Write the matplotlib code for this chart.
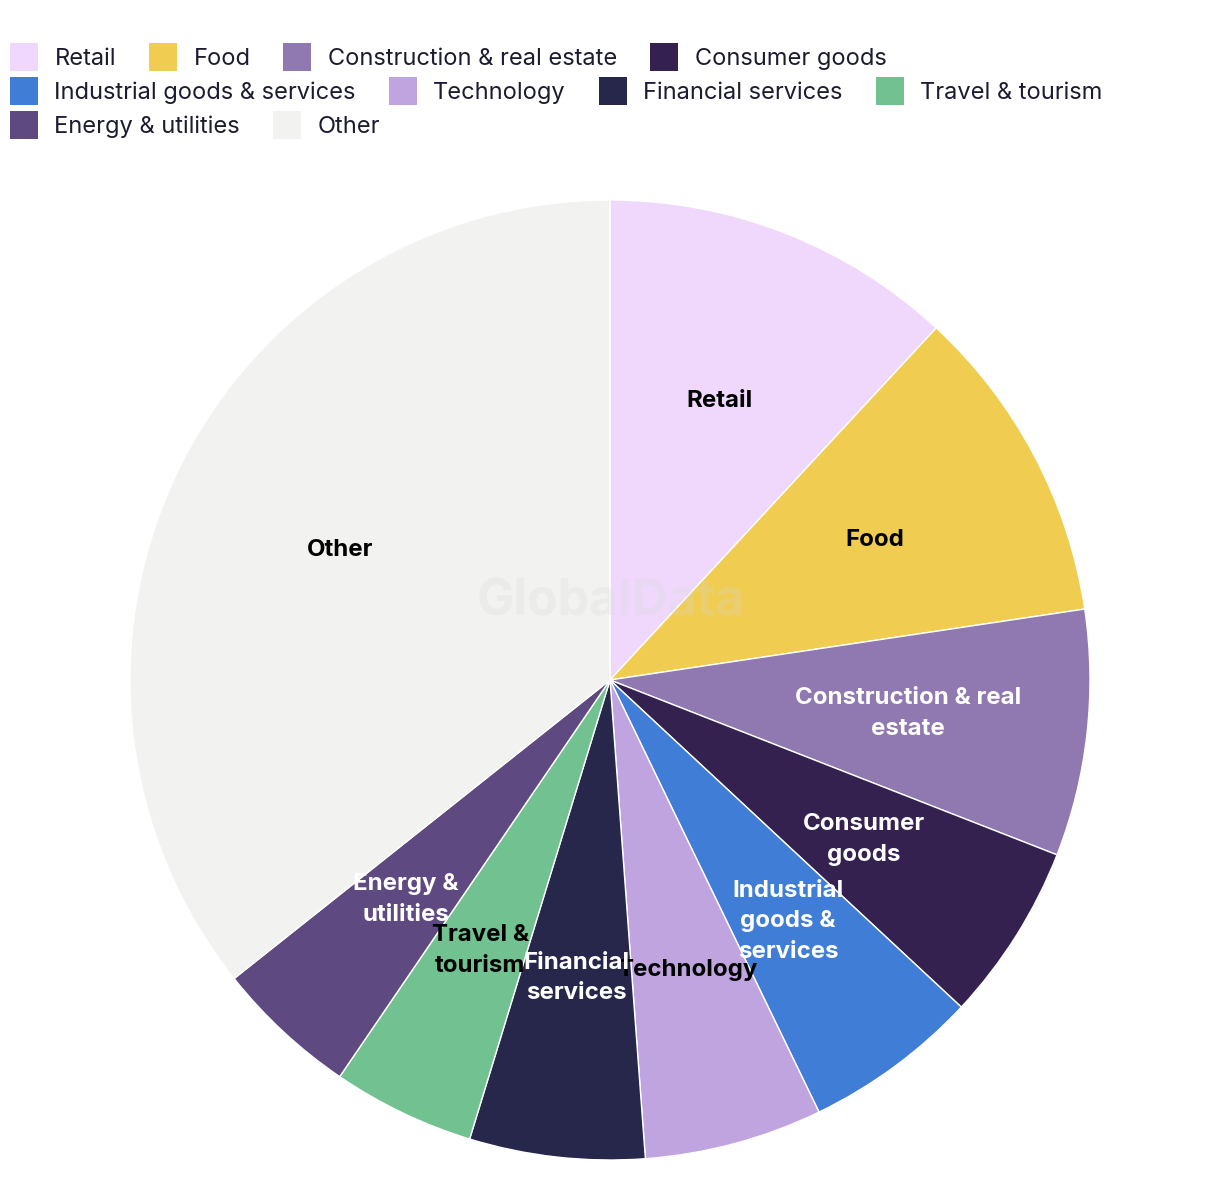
import matplotlib
matplotlib.use("Agg")
import matplotlib.pyplot as plt
from matplotlib.patches import Patch
import numpy as np

plt.rcParams['font.family'] = ['Inter', 'DejaVu Sans']

categories = ["Retail", "Food", "Construction & real estate", "Consumer goods",
              "Industrial goods & services", "Technology", "Financial services",
              "Travel & tourism", "Energy & utilities", "Other"]
values = [11.9, 10.75, 8.3, 6.0, 5.9, 6.0, 5.9, 4.8, 4.8, 35.7]
slice_labels = ["Retail", "Food", "Construction & real\nestate", "Consumer\ngoods",
                "Industrial\ngoods &\nservices", "Technology", "Financial\nservices",
                "Travel &\ntourism", "Energy &\nutilities", "Other"]
colors = ["#f0d8fd", "#f0cd50", "#9078b0", "#352150", "#3f7dd6",
          "#bfa4e0", "#26274a", "#72c190", "#5e4a80", "#f2f2f0"]
label_colors = ["black", "black", "white", "white", "white",
                "black", "white", "black", "white", "black"]

W, H = 1220, 1202
fig = plt.figure(figsize=(W / 100, H / 100), dpi=100)
ax = fig.add_axes([130 / W, (H - 1160) / H, 960 / W, 960 / H])
wedges, _ = ax.pie(values, colors=colors, startangle=90, counterclock=False,
                   radius=1, wedgeprops=dict(edgecolor="white", linewidth=1))
ax.set_xlim(-1, 1)
ax.set_ylim(-1, 1)
ax.set_aspect("equal")
ax.axis("off")

for w, lab, lc in zip(wedges, slice_labels, label_colors):
    ang = np.deg2rad((w.theta1 + w.theta2) / 2)
    r = 0.625
    ax.text(r * np.cos(ang), r * np.sin(ang), lab, ha="center", va="center",
            fontsize=17.3, fontweight="bold", color=lc, linespacing=1.5, zorder=5)

# watermark
fig.text(611 / W, 1 - 602 / H, "GlobalData", ha="center", va="center",
         fontsize=36, fontweight="bold", color="#d8d8d8", alpha=0.25, zorder=10)

# legend in three flowing rows
rows = [[0, 1, 2, 3], [4, 5, 6, 7], [8, 9]]
row_y = [57, 91, 125]
for idxs, yc in zip(rows, row_y):
    handles = [Patch(facecolor=colors[i], edgecolor="none", label=categories[i]) for i in idxs]
    leg = fig.legend(handles=handles, loc="center left",
                     bbox_to_anchor=(3 / W, 1 - yc / H), ncol=len(idxs),
                     frameon=False, fontsize=17, handlelength=1.18, handleheight=1.4,
                     handletextpad=0.7, columnspacing=1.4, borderaxespad=0,
                     borderpad=0.3)
    for t in leg.get_texts():
        t.set_color("#1c1c30")

fig.savefig("out.png", dpi=100)
